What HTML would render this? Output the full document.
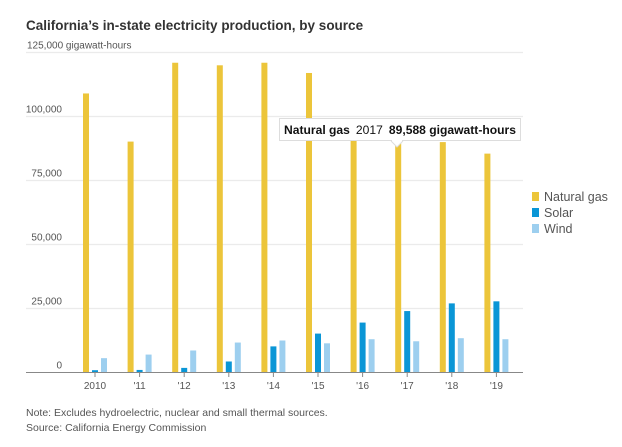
<!DOCTYPE html>
<html><head><meta charset="utf-8"><style>
body{margin:0;background:#fff;width:622px;height:447px;overflow:hidden;font-family:"Liberation Sans",sans-serif;}
svg{position:absolute;left:0;top:0}
</style></head><body>
<svg width="622" height="447">
<text x="26" y="30" font-size="13.5" fill="#333" style="font-weight:600">California’s in-state electricity production, by source</text>
<g id="grid"></g>
<g id="bars"></g>
<g id="xticks"></g>
<line x1="26" x2="523" y1="372.5" y2="372.5" stroke="#888" stroke-width="1"/>
<g>
<rect x="279.5" y="118.5" width="241" height="22" fill="#fff" stroke="#ddd"/>
<path d="M391 141 L397 147 L403 141" fill="#fff" stroke="#ddd"/>
<line x1="392" x2="402" y1="140.5" y2="140.5" stroke="#fff" stroke-width="1.5"/>
<text x="284" y="134" font-size="12" fill="#111" textLength="232" lengthAdjust="spacingAndGlyphs"><tspan font-weight="bold">Natural gas</tspan><tspan dx="6">2017</tspan><tspan dx="6" font-weight="bold">89,588 gigawatt-hours</tspan></text>
</g>
<g>
<rect x="532" y="192" width="7" height="9" fill="#ecc53a"/>
<text x="544" y="201" font-size="12.5" fill="#555">Natural gas</text>
<rect x="532" y="208" width="7" height="9" fill="#0a96d6"/>
<text x="544" y="217" font-size="12.5" fill="#555">Solar</text>
<rect x="532" y="224" width="7" height="9" fill="#9dcfef"/>
<text x="544" y="233" font-size="12.5" fill="#555">Wind</text>
</g>
<text x="26" y="416" font-size="10.5" fill="#555">Note: Excludes hydroelectric, nuclear and small thermal sources.</text>
<text x="26" y="431" font-size="10.5" fill="#555">Source: California Energy Commission</text>
</svg>
<script>
const years=["2010","'11","'12","'13","'14","'15","'16","'17","'18","'19"];
const gas=[109000,90200,121000,120000,121000,117000,92500,89588,90000,85500];
const solar=[900,1000,1800,4300,10200,15200,19500,24000,27000,27800];
const wind=[5600,7000,8600,11700,12500,11400,13000,12200,13400,13000];
const yTicks=[0,25000,50000,75000,100000,125000];
const NS="http://www.w3.org/2000/svg";
function y(v){return 372.5-v*320/125000;}
function x(i){return 95+i*44.6;}
function mk(t,a,p){const e=document.createElementNS(NS,t);for(const k in a)e.setAttribute(k,a[k]);p.appendChild(e);return e;}
const grid=document.getElementById('grid'),bars=document.getElementById('bars'),xt=document.getElementById('xticks');
yTicks.forEach((v,i)=>{
 if(v>0){const l=mk('line',{x1:26,x2:523,y1:y(v),y2:y(v),stroke:'#ebebeb','stroke-width':1.2},grid);
 
 }
 const lab=v.toLocaleString('en-US')+(v===125000?' gigawatt-hours':'');
 const t=mk('text',{x:v===125000?27:62,y:y(v)-4,'font-size':10,fill:'#555','text-anchor':v===125000?'start':'end'},grid);
 t.textContent=lab;
 
 
});
const series=[[gas,'#ecc53a',-9,'gas'],[solar,'#0a96d6',0,'solar'],[wind,'#9dcfef',9,'wind']];
years.forEach((yr,i)=>{
 series.forEach(s=>{
  const v=s[0][i];
  const r=mk('rect',{x:x(i)+s[2]-3,y:y(v),width:6,height:372.5-y(v),fill:s[1]},bars);
  
  
 });
 mk('line',{x1:x(i),x2:x(i),y1:372.5,y2:377,stroke:'#888'},xt);
 const t=mk('text',{x:x(i),y:389,'font-size':10,fill:'#555','text-anchor':'middle'},xt);
 t.textContent=yr;
 
 
});
</script>
</body></html>
